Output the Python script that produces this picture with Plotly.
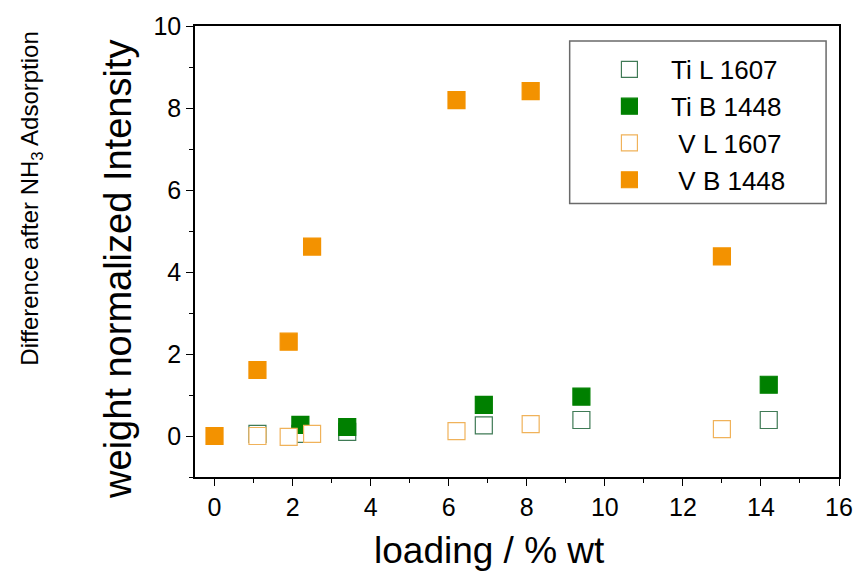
import plotly.graph_objects as go

# Loading (% wt) and weight-normalised intensity differences
ti_l_x = [1.1, 2.2, 3.4, 6.9, 9.4, 14.2]
ti_l_y = [0.05, 0.05, 0.1, 0.26, 0.39, 0.39]

ti_b_x = [2.2, 3.4, 6.9, 9.4, 14.2]
ti_b_y = [0.27, 0.22, 0.76, 0.96, 1.25]

v_l_x = [1.1, 1.9, 2.5, 6.2, 8.1, 13.0]
v_l_y = [0.0, -0.02, 0.05, 0.12, 0.29, 0.17]

v_b_x = [0.0, 1.1, 1.9, 2.5, 6.2, 8.1, 13.0]
v_b_y = [0.0, 1.61, 2.3, 4.62, 8.19, 8.41, 4.38]

x_ticks = [0, 2, 4, 6, 8, 10, 12, 14, 16]
y_ticks = [0, 2, 4, 6, 8, 10]

GREEN = "#008000"
GREEN_EDGE = "#3f7a55"
ORANGE = "#F39200"
ORANGE_EDGE = "#F0B25A"
FONT = "Liberation Sans, Arial, sans-serif"
NBSP = "\u00a0"

W, H = 865, 574
L, R, T, B = 195, 22, 25, 97
PW, PH = W - L - R, H - T - B


def px_x(px):
    return (px - L) / PW


def px_y(py):
    return (H - B - py) / PH


fig = go.Figure()

series = [
    (ti_l_x, ti_l_y, NBSP * 3 + "Ti L 1607", "white", GREEN_EDGE),
    (ti_b_x, ti_b_y, NBSP * 3 + "Ti B 1448", GREEN, GREEN),
    (v_l_x, v_l_y, NBSP * 4 + "V L 1607", "white", ORANGE_EDGE),
    (v_b_x, v_b_y, NBSP * 4 + "V B 1448", ORANGE, ORANGE),
]
for xs, ys, name, fill, edge in series:
    fig.add_trace(go.Scatter(
        x=xs, y=ys, mode="markers", name=name,
        marker=dict(symbol="square", size=17, color=fill,
                    line=dict(color=edge, width=1.2)),
    ))

axis_common = dict(
    showline=True, linecolor="black", linewidth=1.5, mirror=True,
    ticks="outside", ticklen=7, tickwidth=1.3, tickcolor="black",
    showgrid=False, zeroline=False,
    tickfont=dict(family=FONT, size=25, color="black"),
)
minor_ticks = dict(dtick=1, tick0=0, ticks="outside", ticklen=4,
                   tickwidth=1.3, tickcolor="black")

fig.update_xaxes(range=[-0.5, 16], tickvals=x_ticks, minor=minor_ticks,
                 **axis_common)
fig.update_yaxes(range=[-1, 10], tickvals=y_ticks, minor=minor_ticks,
                 **axis_common)

annotations = [
    dict(text="loading / % wt", x=px_x(491), y=px_y(551),
         font=dict(family=FONT, size=37, color="black")),
    dict(text="weight normalized Intensity", x=px_x(118), y=px_y(269),
         textangle=-90, font=dict(family=FONT, size=38, color="black")),
    dict(text="Difference after NH<sub>3</sub> Adsorption", x=px_x(31),
         y=px_y(198), textangle=-90,
         font=dict(family=FONT, size=24, color="black")),
]
for a in annotations:
    a.update(xref="paper", yref="paper", showarrow=False,
             xanchor="center", yanchor="middle")

fig.update_layout(
    width=W, height=H,
    margin=dict(l=L, r=R, t=T, b=B),
    paper_bgcolor="white", plot_bgcolor="white",
    showlegend=True,
    legend=dict(
        x=px_x(612), y=px_y(45), xanchor="left", yanchor="top",
        bgcolor="rgba(0,0,0,0)", borderwidth=0,
        font=dict(family=FONT, size=26, color="black"),
    ),
    annotations=annotations,
    shapes=[dict(type="rect", xref="paper", yref="paper",
                 x0=px_x(572), x1=px_x(830), y0=px_y(203), y1=px_y(40),
                 line=dict(color="#6a6a6a", width=1.5),
                 fillcolor="white", layer="below")],
)

fig.write_html("out.html")
